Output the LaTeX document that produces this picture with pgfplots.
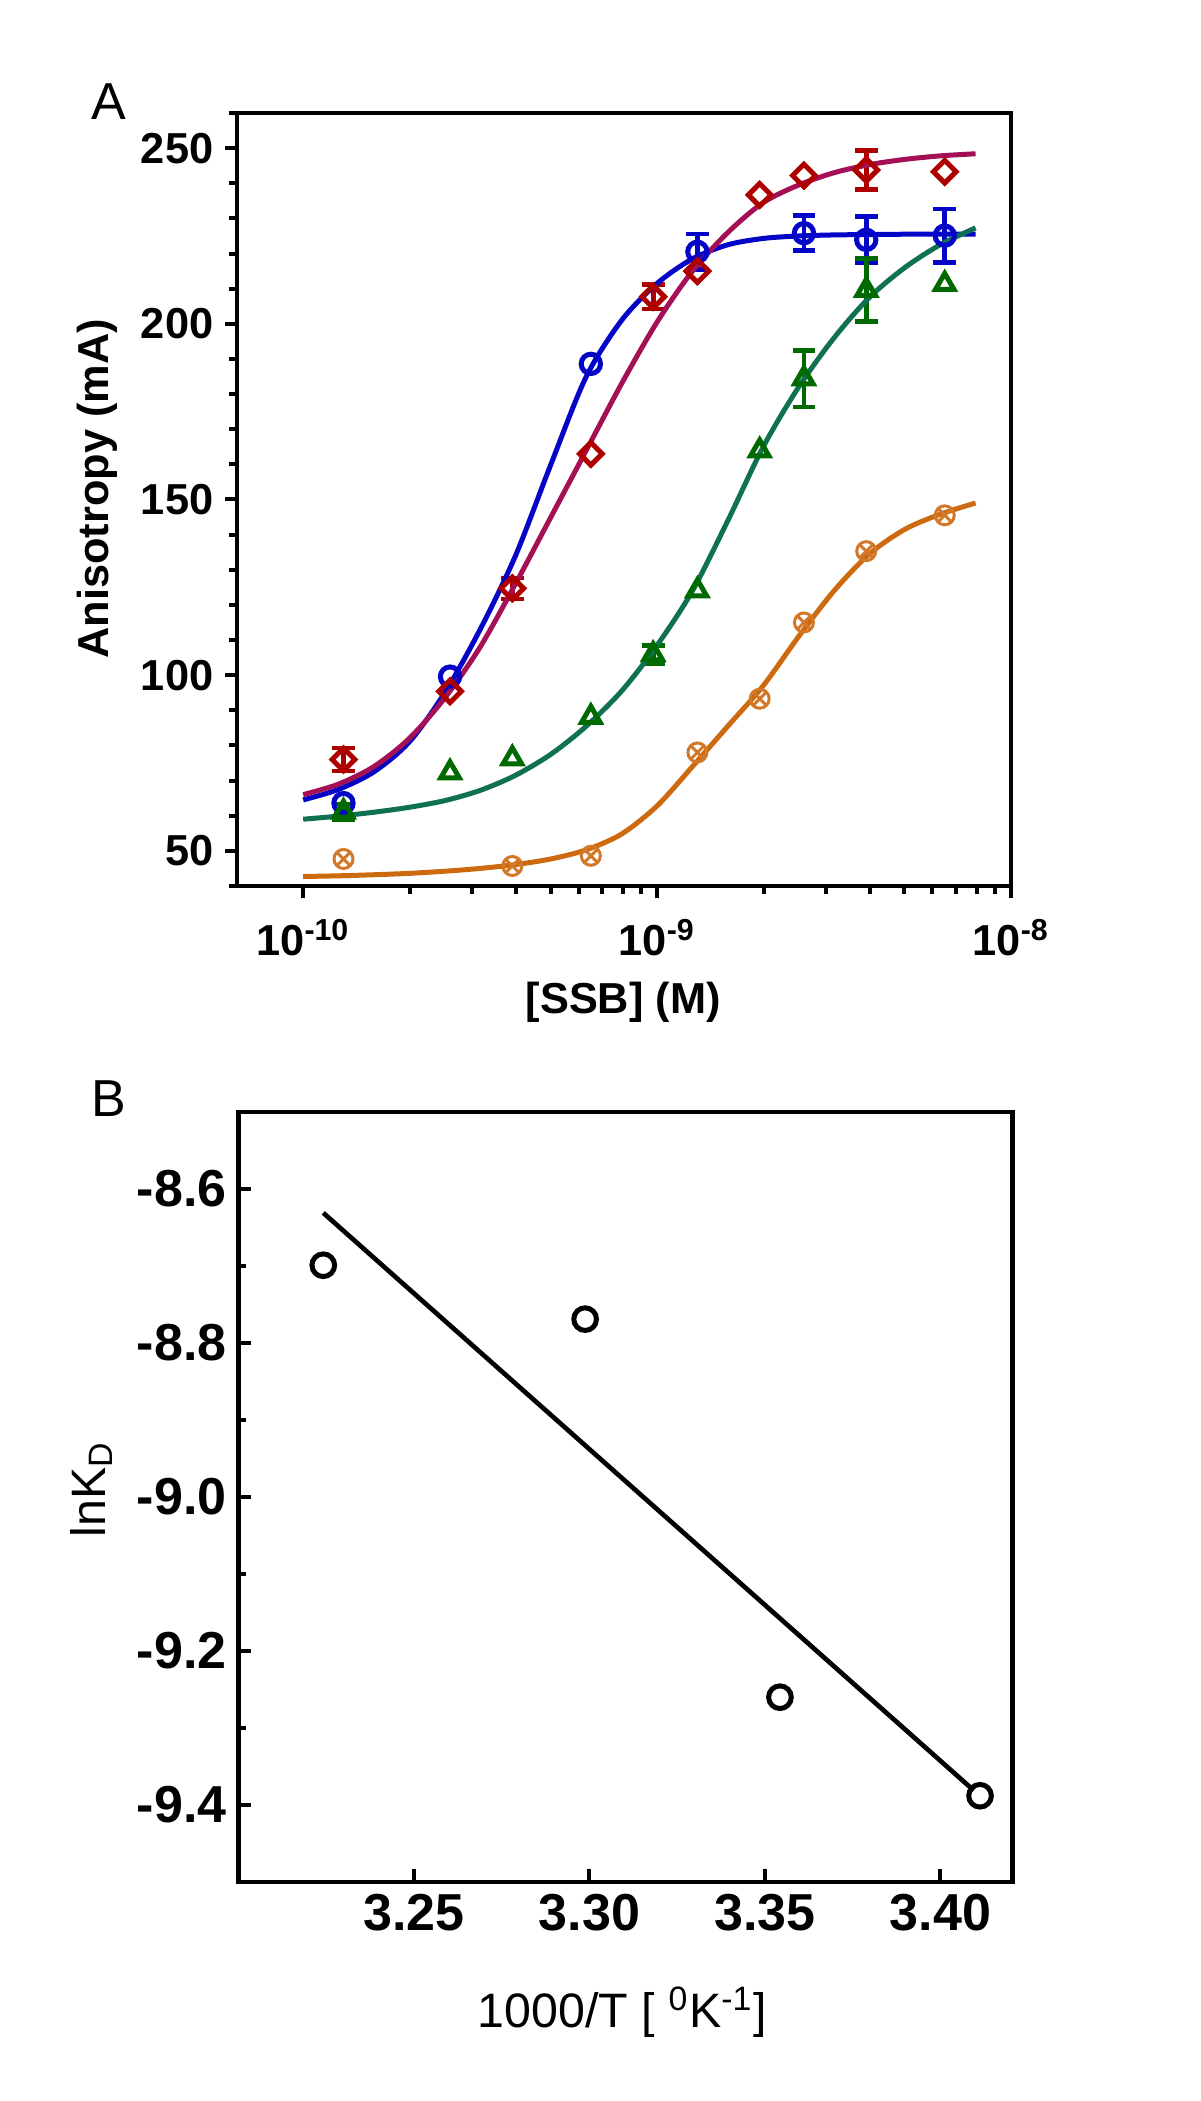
\documentclass[border=0pt]{standalone}
\usepackage{pgfplots}
\pgfplotsset{compat=1.18}
\usepackage{fontspec}
\setmainfont{Liberation Sans}
\usetikzlibrary{plotmarks}

\definecolor{cblue}{RGB}{5,5,200}
\definecolor{cred}{RGB}{175,0,0}
\definecolor{cmag}{RGB}{165,15,85}
\definecolor{cgreen}{RGB}{0,105,0}
\definecolor{cteal}{RGB}{15,112,82}
\definecolor{corange}{RGB}{205,105,15}
\definecolor{corangem}{RGB}{210,120,40}

\pgfplotstableread{
x y
1e-10 64.5
1.2589e-10 67.5
1.5849e-10 72.5
1.9953e-10 81
2.5119e-10 95
3.1623e-10 113
3.9811e-10 134
5.0119e-10 160
6.3096e-10 185
7.9433e-10 201
1e-9 211.5
1.2589e-9 218.5
1.5849e-9 222.5
1.9953e-9 224.3
2.5119e-9 225
3.1623e-9 225.3
3.9811e-9 225.4
5.0119e-9 225.5
6.3096e-9 225.5
7.9433e-9 225.5
}\curveblue

\pgfplotstableread{
x y
1e-10 66
1.2589e-10 69
1.5849e-10 74
1.9953e-10 82
2.5119e-10 93.5
3.1623e-10 108
3.9811e-10 126
5.0119e-10 145
6.3096e-10 164
7.9433e-10 183
1e-9 200.5
1.2589e-9 215
1.5849e-9 226
1.9953e-9 234.5
2.5119e-9 239.5
3.1623e-9 243
3.9811e-9 245.3
5.0119e-9 246.8
6.3096e-9 247.8
7.9433e-9 248.4
}\curvemag

\pgfplotstableread{
x y
1e-10 59.0
1.2589e-10 59.9
1.5849e-10 61.0
1.9953e-10 62.4
2.5119e-10 64.3
3.1623e-10 67.2
3.9811e-10 71.5
5.0119e-10 77.5
6.3096e-10 85.5
7.9433e-10 95.5
1e-9 108.5
1.2589e-9 124
1.5849e-9 144
1.9953e-9 165
2.5119e-9 182
3.1623e-9 196
3.9811e-9 207.5
5.0119e-9 216
6.3096e-9 222.5
7.9433e-9 227.3
}\curvegreen

\pgfplotstableread{
x y
1e-10 42.7
1.2589e-10 42.9
1.5849e-10 43.2
1.9953e-10 43.6
2.5119e-10 44.2
3.1623e-10 45.0
3.9811e-10 46.1
5.0119e-10 47.7
6.3096e-10 50.3
7.9433e-10 54.8
1e-9 62.8
1.2589e-9 74.0
1.5849e-9 85.5
1.9953e-9 97
2.5119e-9 111
3.1623e-9 124
3.9811e-9 134.5
5.0119e-9 141.5
6.3096e-9 145.8
7.9433e-9 149
}\curveorange

\pgfplotstableread{
x y
1.3e-10 63.6
2.6e-10 99.6
6.5e-10 188.6
}\ptblue
\pgfplotstableread{
x y e
1.3e-9 220.5 5.1
2.6e-9 225.8 5.0
3.9e-9 223.9 6.6
6.5e-9 225.1 7.6
}\ptblueerr

\pgfplotstableread{
x y
2.6e-10 95.4
6.5e-10 163.0
1.3e-9 215.0
1.95e-9 236.7
2.6e-9 242.2
6.5e-9 243.3
}\ptred
\pgfplotstableread{
x y e
1.3e-10 76.0 3.3
3.9e-10 124.7 3.0
9.75e-10 207.7 3.5
3.9e-9 243.8 5.5
}\ptrederr

\pgfplotstableread{
x y
2.6e-10 72.3
3.9e-10 76.3
6.5e-10 88.1
1.3e-9 124.1
1.95e-9 163.9
6.5e-9 211.3
}\ptgreen
\pgfplotstableread{
x y e
1.3e-10 61.1 2.2
9.75e-10 105.9 2.5
2.6e-9 184.4 8.1
3.9e-9 209.6 9.0
}\ptgreenerr

\pgfplotstableread{
x y
1.3e-10 47.7
3.9e-10 45.7
6.5e-10 48.6
1.3e-9 78.0
1.95e-9 93.3
2.6e-9 115.0
3.9e-9 135.3
6.5e-9 145.5
}\ptorange

\pgfplotstableread{
x y
3.2242 -8.699
3.2988 -8.769
3.3543 -9.260
3.4113 -9.388
}\ptB

\pgfplotsset{
  errstyle/.style={
    error bars/.cd, y dir=both, y explicit,
    error bar style={line width=1.4pt, #1},
    error mark options={#1, line width=1.4pt, mark size=3.4pt, rotate=90}
  }
}

\begin{document}
\begin{tikzpicture}[x=1pt,y=1pt]
\useasboundingbox (0,0) rectangle (360,630.3);

\begin{axis}[
  scale only axis, width=232.2pt, height=231.9pt,
  at={(71.1pt,364.5pt)}, anchor=south west,
  xmode=log, xmin=6.5e-11, xmax=1e-8, ymin=40, ymax=260,
  axis line style={line width=1.4pt},
  tick align=outside, xtick pos=bottom, ytick pos=left,
  major tick length=3.6pt, minor tick length=2.4pt,
  every tick/.style={black, line width=1.2pt},
  ytick={50,100,150,200,250},
  yticklabels={50,100,150,200,250},
  minor ytick={40,50,...,260},
  xtick={1e-10,1e-9,1e-8},
  xticklabels={10\textsuperscript{-10},10\textsuperscript{-9},10\textsuperscript{-8}},
  tick label style={font=\fontsize{13}{15}\selectfont\bfseries},
  xticklabel style={yshift=-3pt},
  ylabel={Anisotropy (mA)},
  xlabel={[SSB] (M)},
  label style={font=\fontsize{13}{15}\selectfont\bfseries},
  ylabel style={at={(axis description cs:-0.18,0.514)}, anchor=center},
  xlabel style={at={(axis description cs:0.499,-0.151)}, anchor=center},
  clip=false,
]
% markers
\addplot[only marks, mark=o, mark size=2.9pt, cblue, mark options={line width=1.5pt}] table[x=x,y=y] {\ptblue};
\addplot[only marks, mark=o, mark size=2.9pt, cblue, mark options={line width=1.5pt}, errstyle=cblue] table[x=x,y=y,y error=e] {\ptblueerr};

\addplot[only marks, mark=square, mark size=2.4pt, cred, mark options={rotate=45, line width=1.5pt}] table[x=x,y=y] {\ptred};
\addplot[only marks, mark=square, mark size=2.4pt, cred, mark options={rotate=45, line width=1.5pt}, errstyle=cred] table[x=x,y=y,y error=e] {\ptrederr};

\addplot[only marks, mark=triangle, mark size=3.2pt, cgreen, mark options={line width=1.5pt}] table[x=x,y=y] {\ptgreen};
\addplot[only marks, mark=triangle, mark size=3.2pt, cgreen, mark options={line width=1.5pt}, errstyle=cgreen] table[x=x,y=y,y error=e] {\ptgreenerr};

\addplot[only marks, mark=otimes, mark size=2.85pt, corangem, mark options={line width=0.9pt}] table[x=x,y=y] {\ptorange};

% curves
\addplot[cblue, line width=1.5pt, smooth, no marks] table[x=x,y=y] {\curveblue};
\addplot[cmag, line width=1.5pt, smooth, no marks] table[x=x,y=y] {\curvemag};
\addplot[cteal, line width=1.5pt, smooth, no marks] table[x=x,y=y] {\curvegreen};
\addplot[corange, line width=1.5pt, smooth, no marks] table[x=x,y=y] {\curveorange};
\end{axis}

\begin{axis}[
  scale only axis, width=232.2pt, height=231pt,
  at={(71.5pt,65.7pt)}, anchor=south west,
  xmin=3.20, xmax=3.4205, ymin=-9.5, ymax=-8.5,
  axis line style={line width=1.4pt},
  tick align=inside, xtick pos=bottom, ytick pos=left,
  major tick length=3.9pt, minor tick length=2.4pt,
  every tick/.style={black, line width=1.2pt},
  ytick={-9.4,-9.2,-9.0,-8.8,-8.6},
  yticklabels={-9.4,-9.2,-9.0,-8.8,-8.6},
  minor ytick={-9.3,-9.1,-8.9,-8.7},
  xtick={3.25,3.30,3.35,3.40},
  xticklabels={3.25,3.30,3.35,3.40},
  tick label style={font=\fontsize{15.6}{18}\selectfont\bfseries},
  ylabel={lnK\textsubscript{D}},
  xlabel={1000/T [ \textsuperscript{0}K\textsuperscript{-1}]},
  label style={font=\fontsize{14.5}{17}\selectfont},
  ylabel style={at={(axis description cs:-0.19,0.51)}, anchor=center},
  xlabel style={at={(axis description cs:0.496,-0.169)}, anchor=center},
  clip=false,
]
\addplot[black, line width=1.4pt, no marks] coordinates {(3.2242,-8.631) (3.4095,-9.381)};
\addplot[only marks, mark=o, mark size=3.4pt, black, mark options={line width=1.5pt}] table[x=x,y=y] {\ptB};
\end{axis}

\node[font=\fontsize{15.6}{18}\selectfont] at (32.7,599.8) {A};
\node[font=\fontsize{15.6}{18}\selectfont] at (32.7,300.7) {B};
\end{tikzpicture}
\end{document}
